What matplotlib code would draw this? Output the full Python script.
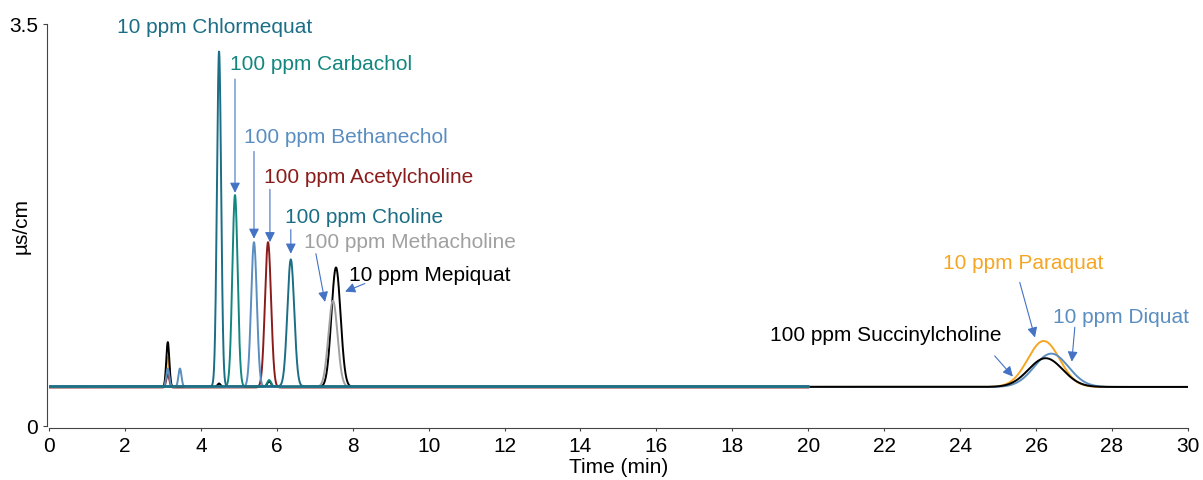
import numpy as np
import matplotlib.pyplot as plt

plt.rcParams['font.family'] = ['Liberation Sans', 'DejaVu Sans']

# Peak tables (retention time min, apex µS/cm, width sigma min)
names = ['Paraquat', 'Diquat', 'Succinylcholine', 'Mepiquat', 'Methacholine',
         'Acetylcholine', 'Bethanechol', 'Carbachol', 'Choline', 'Chlormequat']
colors = ['#f5a623', '#5b8ec0', '#000000', '#000000', '#a0a0a0',
          '#8b1c1c', '#5b8ec0', '#13877f', '#1b6e86', '#1b6e86']
baselines = [0.34, 0.34, 0.34, 0.34, 0.34, 0.335, 0.34, 0.342, 0.345, 0.345]
run_end = [30, 30, 30, 20, 20, 20, 20, 20, 20, 20]
peak_times = [[3.13, 26.2], [26.4], [26.25], [3.13, 4.48, 5.8, 7.56], [7.48],
              [3.13, 5.77], [3.13, 3.45, 5.4], [4.9, 5.8], [6.37], [4.48]]
peak_heights = [[0.60, 0.74], [0.63], [0.59], [0.73, 0.37, 0.39, 1.38], [1.09],
                [0.45, 1.60], [0.50, 0.50, 1.60], [2.01, 0.40], [1.45], [3.26]]
peak_widths = [[0.04, 0.42], [0.45], [0.45], [0.04, 0.04, 0.05, 0.12], [0.12],
               [0.04, 0.08], [0.04, 0.04, 0.075], [0.07, 0.05], [0.09], [0.055]]

# Labels: text, colour, text position, arrow start and tip (None = no arrow)
labels = ['10 ppm Chlormequat', '100 ppm Carbachol', '100 ppm Bethanechol',
          '100 ppm Acetylcholine', '100 ppm Choline', '100 ppm Methacholine',
          '10 ppm Mepiquat', '10 ppm Paraquat', '10 ppm Diquat',
          '100 ppm Succinylcholine']
label_colors = ['#1b6e86', '#13877f', '#5b8ec0', '#8b1c1c', '#1b6e86', '#a0a0a0',
                '#000000', '#f5a623', '#5b8ec0', '#000000']
label_pos = [(1.79, 3.48), (4.77, 3.16), (5.14, 2.52), (5.66, 2.17), (6.22, 1.82),
             (6.72, 1.61), (7.9, 1.32), (23.55, 1.42), (26.44, 0.95), (18.99, 0.80)]
arrow_from = [None, (4.9, 3.02), (5.40, 2.39), (5.82, 2.06), (6.37, 1.71),
              (7.03, 1.50), (8.32, 1.24), (25.57, 1.25), (27.02, 0.86), (24.91, 0.61)]
arrow_to = [None, (4.9, 2.03), (5.40, 1.63), (5.82, 1.60), (6.37, 1.50),
            (7.27, 1.08), (7.80, 1.17), (25.97, 0.77), (26.94, 0.56), (25.39, 0.43)]

fig = plt.figure(figsize=(12.03, 4.81), dpi=100)
ax = fig.add_axes([0.0407, 0.1123, 0.9468, 0.8358])

for i in range(len(names)):
    t = np.linspace(0, run_end[i], int(run_end[i] * 300) + 1)
    y = np.full_like(t, baselines[i])
    for rt, h, w in zip(peak_times[i], peak_heights[i], peak_widths[i]):
        y += (h - baselines[i]) * np.exp(-0.5 * ((t - rt) / w) ** 2)
    ax.plot(t, y, color=colors[i], lw=1.4)

for i in range(len(labels)):
    ax.text(label_pos[i][0], label_pos[i][1], labels[i], color=label_colors[i],
            fontsize=15, ha='left', va='center')
    if arrow_from[i] is not None:
        ax.annotate('', xy=arrow_to[i], xytext=arrow_from[i],
                    arrowprops=dict(arrowstyle='-|>,head_length=0.6,head_width=0.3',
                                    color='#4472c4', lw=0.8,
                                    mutation_scale=10, shrinkA=0, shrinkB=0))

ax.set_xlim(0, 30)
ax.set_ylim(0, 3.5)
ax.set_xticks(range(0, 31, 2))
ax.set_yticks([0, 3.5])
ax.set_yticklabels(['0', '3.5'])
ax.tick_params(labelsize=15, length=3, color='#444444')
ax.tick_params(axis='x', length=2, pad=4)
ax.spines['top'].set_visible(False)
ax.spines['right'].set_visible(False)
for s in ['left', 'bottom']:
    ax.spines[s].set_color('#444444')
    ax.spines[s].set_position(('outward', 1.5))
ax.set_xlabel('Time (min)', fontsize=15, labelpad=1)
ax.set_ylabel('µs/cm', fontsize=15)
ax.yaxis.set_label_coords(-0.0165, 0.5)

fig.savefig('out.png', dpi=100)
